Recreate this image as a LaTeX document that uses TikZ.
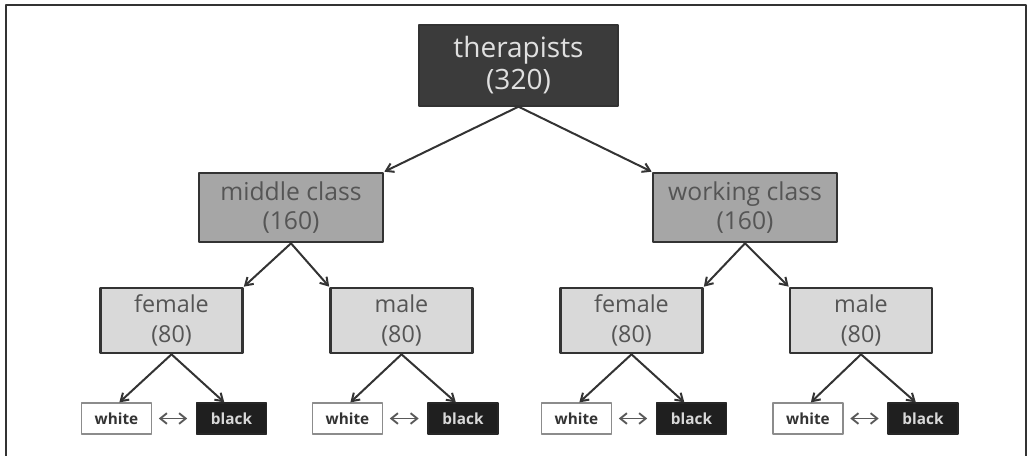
\documentclass[tikz,border=0pt]{standalone}
\usepackage{fontspec}
\setmainfont{Open Sans}
\usetikzlibrary{arrows.meta}
\definecolor{topgray}{HTML}{3B3B3B}
\definecolor{midgray}{HTML}{A6A6A6}
\definecolor{lowgray}{HTML}{D9D9D9}
\definecolor{inkgray}{HTML}{333333}
\definecolor{txtgray}{HTML}{555555}
\begin{document}
\begin{tikzpicture}[x=0.75pt,y=-0.75pt,line cap=round,line join=round,>={Straight Barb[length=5.5pt,width=7pt]},
  rootbox/.style={draw=inkgray,fill=topgray,line width=1pt,minimum width=149.25pt,minimum height=60.75pt,
    align=center,text=white!88!black,font=\fontsize{21}{24}\selectfont,inner sep=0pt},
  classbox/.style={draw=inkgray,fill=midgray,line width=2pt,minimum width=138pt,minimum height=51.75pt,
    align=center,text=txtgray,font=\fontsize{18.5}{22}\selectfont,inner sep=0pt},
  sexbox/.style={draw=inkgray,fill=lowgray,line width=2pt,minimum width=106.5pt,minimum height=48.75pt,
    align=center,text=txtgray,font=\fontsize{17.5}{22}\selectfont,inner sep=0pt},
  whitebox/.style={draw=black!45,fill=white,line width=0.9pt,minimum width=52.5pt,minimum height=23.25pt,
    text=inkgray,font=\fontsize{11.5}{13}\selectfont\bfseries,inner sep=0pt},
  blackbox/.style={draw=black!85,fill=black!88,line width=0.9pt,minimum width=52.5pt,minimum height=23.25pt,
    text=white!85!black,font=\fontsize{11.5}{13}\selectfont\bfseries,inner sep=0pt},
  link/.style={->,draw=inkgray,line width=1.5pt},
  swap/.style={{Straight Barb[length=5pt,width=8pt]}-{Straight Barb[length=5pt,width=8pt]},draw=black!65,line width=1.4pt}]
  \useasboundingbox (0,0) rectangle (1028,456);
  \draw[line width=1.5pt,draw=inkgray] (6,456) -- (6,5) -- (1026,5) -- (1026,456);

  \node[rootbox] (ther) at (518.5,65.5) {therapists\\(320)};
  \node[classbox] (mid) at (291,207.5) {middle class\\(160)};
  \node[classbox] (work) at (745,207.5) {working class\\(160)};
  \node[sexbox] (fem1) at (171.5,320.5) {female\\(80)};
  \node[sexbox] (mal1) at (401.5,320.5) {male\\(80)};
  \node[sexbox] (fem2) at (631.5,320.5) {female\\(80)};
  \node[sexbox] (mal2) at (861,320.5) {male\\(80)};

  \foreach \n/\wx/\bx in {1/116.5/231.5,2/347.5/463,3/576.5/691.5,4/808/923} {
    \node[whitebox] (w\n) at (\wx,418.5) {white};
    \node[blackbox] (b\n) at (\bx,418.5) {black};
    \draw[swap,shorten <=5pt,shorten >=6.5pt] (w\n) -- (b\n);
  }

  \draw[link] (ther.south) -- (mid.north east);
  \draw[link] (ther.south) -- (work.north west);
  \draw[link] (mid.south) -- (fem1.north east);
  \draw[link] (mid.south) -- (mal1.north west);
  \draw[link] (work.south) -- (fem2.north east);
  \draw[link] (work.south) -- (mal2.north west);
  \draw[link] (fem1.south) -- (w1.80);
  \draw[link] (fem1.south) -- (b1.114);
  \draw[link] (mal1.south) -- (w2.80);
  \draw[link] (mal1.south) -- (b2.114);
  \draw[link] (fem2.south) -- (w3.80);
  \draw[link] (fem2.south) -- (b3.114);
  \draw[link] (mal2.south) -- (w4.80);
  \draw[link] (mal2.south) -- (b4.114);
\end{tikzpicture}
\end{document}
